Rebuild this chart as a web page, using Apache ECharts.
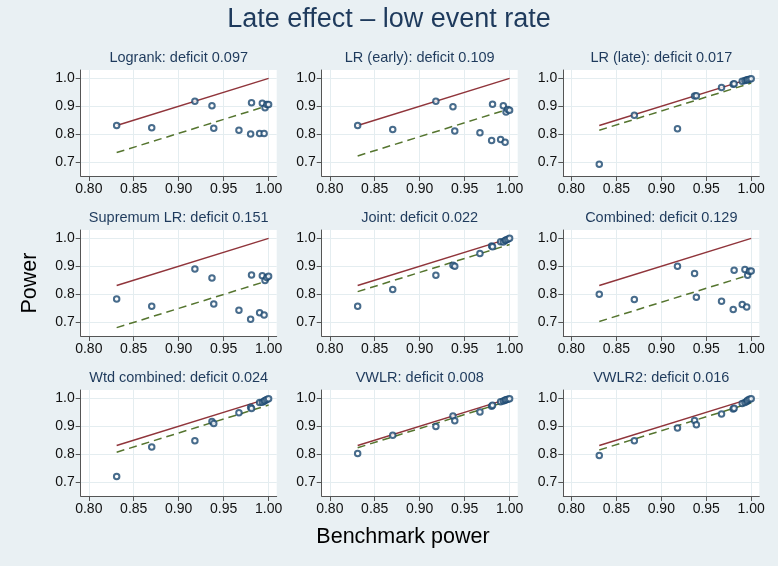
<!DOCTYPE html>
<html><head><meta charset="utf-8">
<script src="https://cdn.jsdelivr.net/npm/echarts@6/dist/echarts.min.js"></script>
<style>html,body{margin:0;padding:0;background:#e9f0f3}#c{width:778px;height:566px}</style>
</head><body><div id="c"></div>
<script>
// Data
const benchmark = [0.831, 0.870, 0.918, 0.937, 0.939, 0.967, 0.980, 0.981, 0.990, 0.993, 0.995, 0.996, 0.998, 1.000];
const logrank      = [0.831, 0.823, 0.918, 0.902, 0.821, 0.814, 0.801, 0.913, 0.802, 0.911, 0.802, 0.895, 0.906, 0.906];
const lrEarly      = [0.831, 0.817, 0.918, 0.898, 0.811, 0.805, 0.777, 0.907, 0.781, 0.902, 0.771, 0.879, 0.888, 0.886];
const lrLate       = [0.692, 0.868, 0.819, 0.937, 0.938, 0.967, 0.979, 0.981, 0.990, 0.992, 0.994, 0.995, 0.997, 0.999];
const supremumLR   = [0.783, 0.757, 0.890, 0.858, 0.765, 0.742, 0.710, 0.869, 0.733, 0.866, 0.725, 0.849, 0.860, 0.864];
const joint        = [0.757, 0.817, 0.868, 0.904, 0.900, 0.946, 0.973, 0.970, 0.988, 0.987, 0.992, 0.994, 0.997, 1.000];
const combined     = [0.800, 0.781, 0.900, 0.874, 0.789, 0.775, 0.745, 0.886, 0.763, 0.888, 0.754, 0.868, 0.882, 0.883];
const wtdCombined  = [0.720, 0.826, 0.848, 0.917, 0.910, 0.948, 0.968, 0.964, 0.985, 0.986, 0.990, 0.992, 0.996, 0.999];
const vwlr         = [0.802, 0.868, 0.899, 0.937, 0.920, 0.951, 0.972, 0.975, 0.988, 0.991, 0.993, 0.995, 0.997, 0.999];
const vwlr2        = [0.795, 0.848, 0.894, 0.921, 0.905, 0.944, 0.962, 0.965, 0.982, 0.985, 0.989, 0.993, 0.997, 0.999];
const panelValues = [logrank, lrEarly, lrLate, supremumLR, joint, combined, wtdCombined, vwlr, vwlr2];
const panelNames = ['Logrank', 'LR (early)', 'LR (late)', 'Supremum LR', 'Joint', 'Combined', 'Wtd combined', 'VWLR', 'VWLR2'];
const deficits = [0.097, 0.109, 0.017, 0.151, 0.022, 0.129, 0.024, 0.008, 0.016];
const xTicks = [0.80, 0.85, 0.90, 0.95, 1.00];
const yTicks = [0.7, 0.8, 0.9, 1.0];
const mainTitle = 'Late effect \u2013 low event rate';
const xTitle = 'Benchmark power';
const yTitle = 'Power';

// Layout
const lefts = [80.7, 321.7, 563.3];
const tops = [70, 230, 390];
const W = 196, H = 106;
const navy = '#1a476f', maroon = '#90353b', green = '#55752f';
const font = 'Liberation Sans, Arial, Helvetica, sans-serif';

const grids = [], xAxes = [], yAxes = [], series = [], graphics = [];
const bMin = Math.min(...benchmark), bMax = Math.max(...benchmark);
for (let i = 0; i < 9; i++) {
  const r = Math.floor(i / 3), c = i % 3;
  grids.push({left: lefts[c], top: tops[r], width: W, height: H, show: true, backgroundColor: '#ffffff', borderWidth: 0});
  xAxes.push({type: 'value', gridIndex: i, min: 0.791, max: 1.009,
    axisLine: {show: true, onZero: false, lineStyle: {color: '#555', width: 1}},
    axisTick: {show: true, length: 5, customValues: xTicks, lineStyle: {color: '#555'}},
    axisLabel: {customValues: xTicks, formatter: v => v.toFixed(2), fontSize: 14, color: '#111', fontFamily: font, margin: 6},
    splitLine: {show: true, lineStyle: {color: '#e4edf0', width: 1}}});
  yAxes.push({type: 'value', gridIndex: i, min: 0.65, max: 1.03,
    axisLine: {show: true, onZero: false, lineStyle: {color: '#555', width: 1}},
    axisTick: {show: true, length: 5, customValues: yTicks, lineStyle: {color: '#555'}},
    axisLabel: {customValues: yTicks, formatter: v => v.toFixed(1), fontSize: 14, color: '#111', fontFamily: font, margin: 6},
    splitLine: {show: true, lineStyle: {color: '#e4edf0', width: 1}}});
  const d = deficits[i];
  series.push({type: 'line', xAxisIndex: i, yAxisIndex: i, data: [[bMin, bMin], [bMax, bMax]], showSymbol: false, silent: true,
    lineStyle: {color: maroon, width: 1.5}, z: 2});
  series.push({type: 'line', xAxisIndex: i, yAxisIndex: i, data: [[bMin, bMin - d], [bMax, bMax - d]], showSymbol: false, silent: true,
    lineStyle: {color: green, width: 1.5, type: [8, 5]}, z: 2});
  series.push({type: 'scatter', xAxisIndex: i, yAxisIndex: i, data: benchmark.map((x, j) => [x, panelValues[i][j]]),
    symbol: 'emptyCircle', symbolSize: 5.5, itemStyle: {color: navy, borderColor: navy, borderWidth: 1.3}, z: 3});
  graphics.push({type: 'text', x: lefts[c] + W / 2, y: tops[r] - 12, style: {text: panelNames[i] + ': deficit ' + d.toFixed(3),
    fill: '#1e3a5c', font: '14.5px ' + font, textAlign: 'center', textVerticalAlign: 'middle'}});
}
graphics.push({type: 'text', x: 389, y: 20, style: {text: mainTitle, fill: '#1e3a5c', font: '27px ' + font, textAlign: 'center', textVerticalAlign: 'middle'}});
graphics.push({type: 'text', x: 403, y: 537, style: {text: xTitle, fill: '#000', font: '21.5px ' + font, textAlign: 'center', textVerticalAlign: 'middle'}});
graphics.push({type: 'text', x: 30, y: 283, rotation: Math.PI / 2, style: {text: yTitle, fill: '#000', font: '21.5px ' + font, textAlign: 'center', textVerticalAlign: 'middle'}});

const chart = echarts.init(document.getElementById('c'), null, {renderer: 'canvas'});
chart.setOption({backgroundColor: '#e9f0f3', animation: false, grid: grids, xAxis: xAxes, yAxis: yAxes, series: series, graphic: graphics});
</script></body></html>
